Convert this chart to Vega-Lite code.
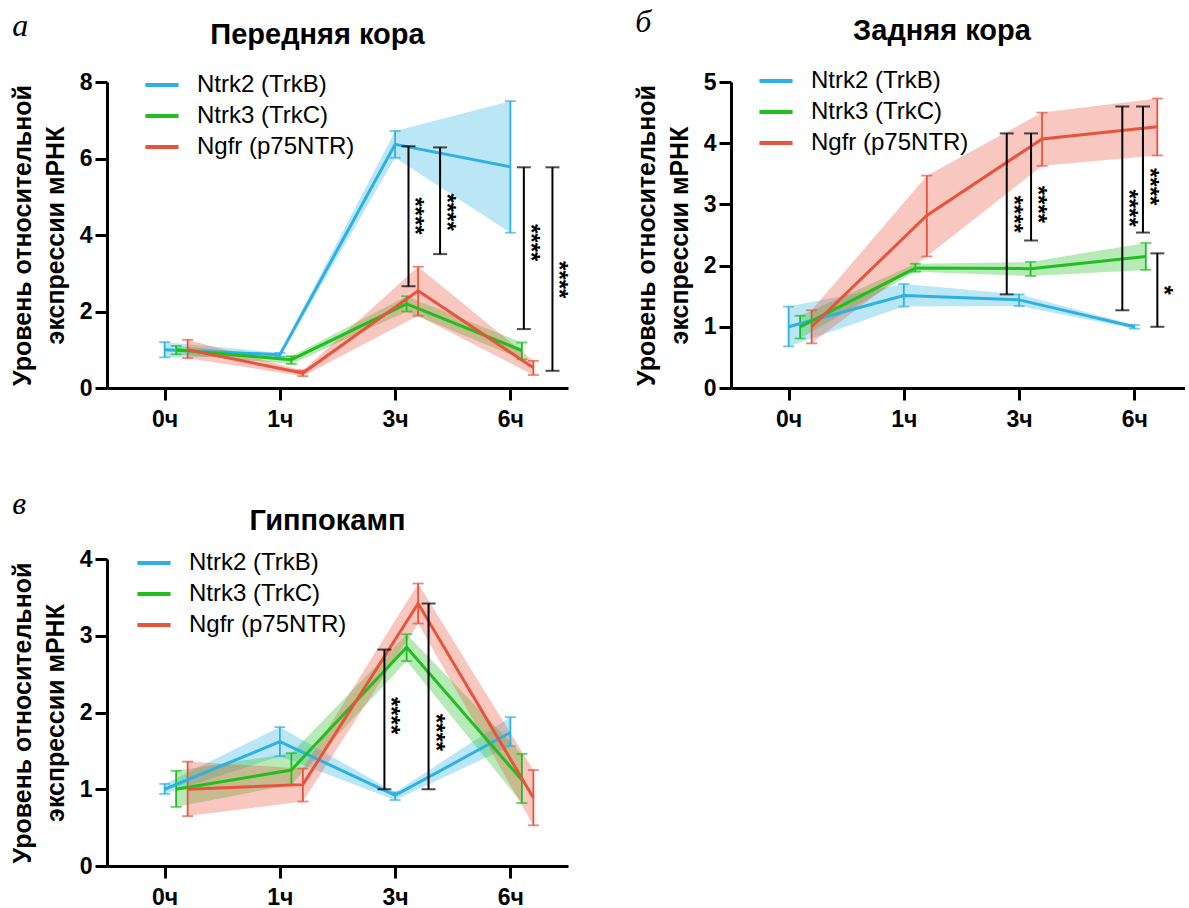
{
  "$schema": "https://vega.github.io/schema/vega-lite/v6.json",
  "padding": {"left": 10, "top": 6, "right": 0, "bottom": 0},
  "datasets": {
    "series": [
      {"panel": "a", "gene": "Ntrk2 (TrkB)", "t": 0, "mean": 1.0, "lo": 0.8, "hi": 1.2},
      {"panel": "a", "gene": "Ntrk2 (TrkB)", "t": 1, "mean": 0.87, "lo": 0.82, "hi": 0.92},
      {"panel": "a", "gene": "Ntrk2 (TrkB)", "t": 2, "mean": 6.37, "lo": 6.02, "hi": 6.72},
      {"panel": "a", "gene": "Ntrk2 (TrkB)", "t": 3, "mean": 5.78, "lo": 4.06, "hi": 7.5},
      {"panel": "a", "gene": "Ntrk3 (TrkC)", "t": 0, "mean": 1.0, "lo": 0.88, "hi": 1.1},
      {"panel": "a", "gene": "Ntrk3 (TrkC)", "t": 1, "mean": 0.74, "lo": 0.63, "hi": 0.83},
      {"panel": "a", "gene": "Ntrk3 (TrkC)", "t": 2, "mean": 2.2, "lo": 2.0, "hi": 2.4},
      {"panel": "a", "gene": "Ntrk3 (TrkC)", "t": 3, "mean": 0.98, "lo": 0.75, "hi": 1.19},
      {"panel": "a", "gene": "Ngfr (p75NTR)", "t": 0, "mean": 1.0, "lo": 0.78, "hi": 1.26},
      {"panel": "a", "gene": "Ngfr (p75NTR)", "t": 1, "mean": 0.39, "lo": 0.31, "hi": 0.46},
      {"panel": "a", "gene": "Ngfr (p75NTR)", "t": 2, "mean": 2.54, "lo": 1.89, "hi": 3.17},
      {"panel": "a", "gene": "Ngfr (p75NTR)", "t": 3, "mean": 0.53, "lo": 0.34, "hi": 0.71},
      {"panel": "b", "gene": "Ntrk2 (TrkB)", "t": 0, "mean": 1.0, "lo": 0.68, "hi": 1.33},
      {"panel": "b", "gene": "Ntrk2 (TrkB)", "t": 1, "mean": 1.51, "lo": 1.33, "hi": 1.7},
      {"panel": "b", "gene": "Ntrk2 (TrkB)", "t": 2, "mean": 1.44, "lo": 1.34, "hi": 1.53},
      {"panel": "b", "gene": "Ntrk2 (TrkB)", "t": 3, "mean": 1.0, "lo": 0.97, "hi": 1.03},
      {"panel": "b", "gene": "Ntrk3 (TrkC)", "t": 0, "mean": 1.0, "lo": 0.81, "hi": 1.18},
      {"panel": "b", "gene": "Ntrk3 (TrkC)", "t": 1, "mean": 1.96, "lo": 1.9, "hi": 2.03},
      {"panel": "b", "gene": "Ntrk3 (TrkC)", "t": 2, "mean": 1.95, "lo": 1.83, "hi": 2.06},
      {"panel": "b", "gene": "Ntrk3 (TrkC)", "t": 3, "mean": 2.15, "lo": 1.93, "hi": 2.37},
      {"panel": "b", "gene": "Ngfr (p75NTR)", "t": 0, "mean": 1.0, "lo": 0.73, "hi": 1.27},
      {"panel": "b", "gene": "Ngfr (p75NTR)", "t": 1, "mean": 2.82, "lo": 2.15, "hi": 3.47},
      {"panel": "b", "gene": "Ngfr (p75NTR)", "t": 2, "mean": 4.07, "lo": 3.63, "hi": 4.5},
      {"panel": "b", "gene": "Ngfr (p75NTR)", "t": 3, "mean": 4.27, "lo": 3.8, "hi": 4.73},
      {"panel": "c", "gene": "Ntrk2 (TrkB)", "t": 0, "mean": 1.0, "lo": 0.94, "hi": 1.07},
      {"panel": "c", "gene": "Ntrk2 (TrkB)", "t": 1, "mean": 1.62, "lo": 1.43, "hi": 1.81},
      {"panel": "c", "gene": "Ntrk2 (TrkB)", "t": 2, "mean": 0.92, "lo": 0.86, "hi": 0.96},
      {"panel": "c", "gene": "Ntrk2 (TrkB)", "t": 3, "mean": 1.74, "lo": 1.56, "hi": 1.94},
      {"panel": "c", "gene": "Ntrk3 (TrkC)", "t": 0, "mean": 1.0, "lo": 0.77, "hi": 1.24},
      {"panel": "c", "gene": "Ntrk3 (TrkC)", "t": 1, "mean": 1.25, "lo": 1.06, "hi": 1.47},
      {"panel": "c", "gene": "Ntrk3 (TrkC)", "t": 2, "mean": 2.85, "lo": 2.67, "hi": 3.02},
      {"panel": "c", "gene": "Ntrk3 (TrkC)", "t": 3, "mean": 1.12, "lo": 0.82, "hi": 1.46},
      {"panel": "c", "gene": "Ngfr (p75NTR)", "t": 0, "mean": 1.0, "lo": 0.65, "hi": 1.36},
      {"panel": "c", "gene": "Ngfr (p75NTR)", "t": 1, "mean": 1.06, "lo": 0.84, "hi": 1.27},
      {"panel": "c", "gene": "Ngfr (p75NTR)", "t": 2, "mean": 3.42, "lo": 3.16, "hi": 3.68},
      {"panel": "c", "gene": "Ngfr (p75NTR)", "t": 3, "mean": 0.89, "lo": 0.53, "hi": 1.25}
    ],
    "brackets": [
      {"panel": "a", "bx": 2.116, "top": 6.32, "bot": 2.66, "sy": 4.5, "stars": "****"},
      {"panel": "a", "bx": 2.39, "top": 6.29, "bot": 3.5, "sy": 4.6, "stars": "****"},
      {"panel": "a", "bx": 3.117, "top": 5.77, "bot": 1.54, "sy": 3.8, "stars": "****"},
      {"panel": "a", "bx": 3.365, "top": 5.77, "bot": 0.45, "sy": 2.83, "stars": "****"},
      {"panel": "b", "bx": 1.893, "top": 4.16, "bot": 1.53, "sy": 2.84, "stars": "****"},
      {"panel": "b", "bx": 2.104, "top": 4.16, "bot": 2.41, "sy": 3.0, "stars": "****"},
      {"panel": "b", "bx": 2.896, "top": 4.6, "bot": 1.27, "sy": 2.94, "stars": "****"},
      {"panel": "b", "bx": 3.075, "top": 4.6, "bot": 2.54, "sy": 3.29, "stars": "****"},
      {"panel": "b", "bx": 3.2, "top": 2.2, "bot": 1.0, "sy": 1.6, "stars": "*"},
      {"panel": "c", "bx": 1.907, "top": 2.82, "bot": 1.0, "sy": 1.96, "stars": "****"},
      {"panel": "c", "bx": 2.29, "top": 3.42, "bot": 1.0, "sy": 1.74, "stars": "****"}
    ]
  },
  "vconcat": [
    {
      "hconcat": [
        {
          "title": {"text": "а", "anchor": "start", "frame": "bounds", "font": "Liberation Serif", "fontStyle": "italic", "fontWeight": "normal", "fontSize": 32, "offset": -22, "dx": 2},
          "vconcat": [
            {
              "title": {"text": "Передняя кора", "fontSize": 29, "fontWeight": "bold", "anchor": "middle", "dx": -20, "offset": 16},
              "width": 461,
              "height": 306,
              "layer": [
                {"data": {"name": "series"}, "transform": [{"filter": "datum.panel == 'a' && datum.gene == 'Ntrk2 (TrkB)'"}], "mark": {"type": "area", "color": "#2CB1E3", "opacity": 0.32, "xOffset": 0},
                 "encoding": {
                   "x": {"field": "t", "type": "quantitative", "scale": {"domain": [-0.5, 3.5], "nice": false, "zero": false}, "axis": {"values": [0, 1, 2, 3], "labelExpr": "['0ч','1ч','3ч','6ч'][datum.value]", "title": null, "labelPadding": 8}},
                   "y": {"field": "lo", "type": "quantitative", "scale": {"domain": [0, 8], "nice": false}, "axis": {"values": [0, 2, 4, 6, 8], "format": "d", "title": ["Уровень относительной", "экспрессии мРНК"], "titlePadding": 11}},
                   "y2": {"field": "hi"}}},
                {"data": {"name": "series"}, "transform": [{"filter": "datum.panel == 'a' && datum.gene == 'Ntrk3 (TrkC)'"}], "mark": {"type": "area", "color": "#1FBF1F", "opacity": 0.32, "xOffset": 11.5},
                 "encoding": {"x": {"field": "t", "type": "quantitative"}, "y": {"field": "lo", "type": "quantitative"}, "y2": {"field": "hi"}}},
                {"data": {"name": "series"}, "transform": [{"filter": "datum.panel == 'a' && datum.gene == 'Ngfr (p75NTR)'"}], "mark": {"type": "area", "color": "#E8533B", "opacity": 0.32, "xOffset": 23},
                 "encoding": {"x": {"field": "t", "type": "quantitative"}, "y": {"field": "lo", "type": "quantitative"}, "y2": {"field": "hi"}}},
                {"data": {"name": "series"}, "transform": [{"filter": "datum.panel == 'a' && datum.gene == 'Ntrk2 (TrkB)'"}], "mark": {"type": "rule", "color": "#2CB1E3", "strokeWidth": 1.8, "xOffset": 0},
                 "encoding": {"x": {"field": "t", "type": "quantitative"}, "y": {"field": "lo", "type": "quantitative"}, "y2": {"field": "hi"}}},
                {"data": {"name": "series"}, "transform": [{"filter": "datum.panel == 'a' && datum.gene == 'Ntrk3 (TrkC)'"}], "mark": {"type": "rule", "color": "#1FBF1F", "strokeWidth": 1.8, "xOffset": 11.5},
                 "encoding": {"x": {"field": "t", "type": "quantitative"}, "y": {"field": "lo", "type": "quantitative"}, "y2": {"field": "hi"}}},
                {"data": {"name": "series"}, "transform": [{"filter": "datum.panel == 'a' && datum.gene == 'Ngfr (p75NTR)'"}], "mark": {"type": "rule", "color": "#E8533B", "strokeWidth": 1.8, "xOffset": 23},
                 "encoding": {"x": {"field": "t", "type": "quantitative"}, "y": {"field": "lo", "type": "quantitative"}, "y2": {"field": "hi"}}},
                {"data": {"name": "series"}, "transform": [{"filter": "datum.panel == 'a' && datum.gene == 'Ntrk2 (TrkB)'"}], "mark": {"type": "tick", "orient": "horizontal", "size": 11, "thickness": 1.8, "color": "#2CB1E3", "xOffset": 0},
                 "encoding": {"x": {"field": "t", "type": "quantitative"}, "y": {"field": "hi", "type": "quantitative"}}},
                {"data": {"name": "series"}, "transform": [{"filter": "datum.panel == 'a' && datum.gene == 'Ntrk2 (TrkB)'"}], "mark": {"type": "tick", "orient": "horizontal", "size": 11, "thickness": 1.8, "color": "#2CB1E3", "xOffset": 0},
                 "encoding": {"x": {"field": "t", "type": "quantitative"}, "y": {"field": "lo", "type": "quantitative"}}},
                {"data": {"name": "series"}, "transform": [{"filter": "datum.panel == 'a' && datum.gene == 'Ntrk3 (TrkC)'"}], "mark": {"type": "tick", "orient": "horizontal", "size": 11, "thickness": 1.8, "color": "#1FBF1F", "xOffset": 11.5},
                 "encoding": {"x": {"field": "t", "type": "quantitative"}, "y": {"field": "hi", "type": "quantitative"}}},
                {"data": {"name": "series"}, "transform": [{"filter": "datum.panel == 'a' && datum.gene == 'Ntrk3 (TrkC)'"}], "mark": {"type": "tick", "orient": "horizontal", "size": 11, "thickness": 1.8, "color": "#1FBF1F", "xOffset": 11.5},
                 "encoding": {"x": {"field": "t", "type": "quantitative"}, "y": {"field": "lo", "type": "quantitative"}}},
                {"data": {"name": "series"}, "transform": [{"filter": "datum.panel == 'a' && datum.gene == 'Ngfr (p75NTR)'"}], "mark": {"type": "tick", "orient": "horizontal", "size": 11, "thickness": 1.8, "color": "#E8533B", "xOffset": 23},
                 "encoding": {"x": {"field": "t", "type": "quantitative"}, "y": {"field": "hi", "type": "quantitative"}}},
                {"data": {"name": "series"}, "transform": [{"filter": "datum.panel == 'a' && datum.gene == 'Ngfr (p75NTR)'"}], "mark": {"type": "tick", "orient": "horizontal", "size": 11, "thickness": 1.8, "color": "#E8533B", "xOffset": 23},
                 "encoding": {"x": {"field": "t", "type": "quantitative"}, "y": {"field": "lo", "type": "quantitative"}}},
                {"data": {"name": "series"}, "transform": [{"filter": "datum.panel == 'a' && datum.gene == 'Ntrk2 (TrkB)'"}], "mark": {"type": "line", "strokeWidth": 3, "xOffset": 0},
                 "encoding": {"x": {"field": "t", "type": "quantitative"}, "y": {"field": "mean", "type": "quantitative"},
                   "color": {"field": "gene", "type": "nominal", "scale": {"domain": ["Ntrk2 (TrkB)", "Ntrk3 (TrkC)", "Ngfr (p75NTR)"], "range": ["#2CB1E3", "#1FBF1F", "#E8533B"]}, "legend": {"orient": "none", "legendX": 36, "legendY": -16, "title": null}}}},
                {"data": {"name": "series"}, "transform": [{"filter": "datum.panel == 'a' && datum.gene == 'Ntrk3 (TrkC)'"}], "mark": {"type": "line", "strokeWidth": 3, "xOffset": 11.5},
                 "encoding": {"x": {"field": "t", "type": "quantitative"}, "y": {"field": "mean", "type": "quantitative"}, "color": {"field": "gene", "type": "nominal"}}},
                {"data": {"name": "series"}, "transform": [{"filter": "datum.panel == 'a' && datum.gene == 'Ngfr (p75NTR)'"}], "mark": {"type": "line", "strokeWidth": 3, "xOffset": 23},
                 "encoding": {"x": {"field": "t", "type": "quantitative"}, "y": {"field": "mean", "type": "quantitative"}, "color": {"field": "gene", "type": "nominal"}}},
                {"data": {"name": "brackets"}, "transform": [{"filter": "datum.panel == 'a'"}], "mark": {"type": "rule", "strokeWidth": 2, "color": "black"},
                 "encoding": {"x": {"field": "bx", "type": "quantitative"}, "y": {"field": "bot", "type": "quantitative"}, "y2": {"field": "top"}}},
                {"data": {"name": "brackets"}, "transform": [{"filter": "datum.panel == 'a'"}], "mark": {"type": "tick", "orient": "horizontal", "size": 14, "thickness": 2, "color": "black"},
                 "encoding": {"x": {"field": "bx", "type": "quantitative"}, "y": {"field": "top", "type": "quantitative"}}},
                {"data": {"name": "brackets"}, "transform": [{"filter": "datum.panel == 'a'"}], "mark": {"type": "tick", "orient": "horizontal", "size": 14, "thickness": 2, "color": "black"},
                 "encoding": {"x": {"field": "bx", "type": "quantitative"}, "y": {"field": "bot", "type": "quantitative"}}},
                {"data": {"name": "brackets"}, "transform": [{"filter": "datum.panel == 'a'"}], "mark": {"type": "text", "angle": 90, "dy": -6, "fontSize": 24, "fontWeight": "bold", "color": "black", "align": "center", "baseline": "middle"},
                 "encoding": {"x": {"field": "bx", "type": "quantitative"}, "y": {"field": "sy", "type": "quantitative"}, "text": {"field": "stars"}}}
              ]
            }
          ],
          "resolve": {"scale": {"color": "independent"}, "legend": {"color": "independent"}}
        },
        {
          "title": {"text": "б", "anchor": "start", "frame": "bounds", "font": "Liberation Serif", "fontStyle": "italic", "fontWeight": "normal", "fontSize": 32, "offset": -22, "dx": 1},
          "vconcat": [
            {
              "title": {"text": "Задняя кора", "fontSize": 29, "fontWeight": "bold", "anchor": "middle", "dx": -16, "offset": 16},
              "width": 454,
              "height": 306,
              "layer": [
                {"data": {"name": "series"}, "transform": [{"filter": "datum.panel == 'b' && datum.gene == 'Ntrk2 (TrkB)'"}], "mark": {"type": "area", "color": "#2CB1E3", "opacity": 0.32, "xOffset": 0},
                 "encoding": {
                   "x": {"field": "t", "type": "quantitative", "scale": {"domain": [-0.5, 3.44], "nice": false, "zero": false}, "axis": {"values": [0, 1, 2, 3], "labelExpr": "['0ч','1ч','3ч','6ч'][datum.value]", "title": null, "labelPadding": 8}},
                   "y": {"field": "lo", "type": "quantitative", "scale": {"domain": [0, 5], "nice": false}, "axis": {"values": [0, 1, 2, 3, 4, 5], "format": "d", "title": ["Уровень относительной", "экспрессии мРНК"], "titlePadding": 11}},
                   "y2": {"field": "hi"}}},
                {"data": {"name": "series"}, "transform": [{"filter": "datum.panel == 'b' && datum.gene == 'Ntrk3 (TrkC)'"}], "mark": {"type": "area", "color": "#1FBF1F", "opacity": 0.32, "xOffset": 11.5},
                 "encoding": {"x": {"field": "t", "type": "quantitative"}, "y": {"field": "lo", "type": "quantitative"}, "y2": {"field": "hi"}}},
                {"data": {"name": "series"}, "transform": [{"filter": "datum.panel == 'b' && datum.gene == 'Ngfr (p75NTR)'"}], "mark": {"type": "area", "color": "#E8533B", "opacity": 0.32, "xOffset": 23},
                 "encoding": {"x": {"field": "t", "type": "quantitative"}, "y": {"field": "lo", "type": "quantitative"}, "y2": {"field": "hi"}}},
                {"data": {"name": "series"}, "transform": [{"filter": "datum.panel == 'b' && datum.gene == 'Ntrk2 (TrkB)'"}], "mark": {"type": "rule", "color": "#2CB1E3", "strokeWidth": 1.8, "xOffset": 0},
                 "encoding": {"x": {"field": "t", "type": "quantitative"}, "y": {"field": "lo", "type": "quantitative"}, "y2": {"field": "hi"}}},
                {"data": {"name": "series"}, "transform": [{"filter": "datum.panel == 'b' && datum.gene == 'Ntrk3 (TrkC)'"}], "mark": {"type": "rule", "color": "#1FBF1F", "strokeWidth": 1.8, "xOffset": 11.5},
                 "encoding": {"x": {"field": "t", "type": "quantitative"}, "y": {"field": "lo", "type": "quantitative"}, "y2": {"field": "hi"}}},
                {"data": {"name": "series"}, "transform": [{"filter": "datum.panel == 'b' && datum.gene == 'Ngfr (p75NTR)'"}], "mark": {"type": "rule", "color": "#E8533B", "strokeWidth": 1.8, "xOffset": 23},
                 "encoding": {"x": {"field": "t", "type": "quantitative"}, "y": {"field": "lo", "type": "quantitative"}, "y2": {"field": "hi"}}},
                {"data": {"name": "series"}, "transform": [{"filter": "datum.panel == 'b' && datum.gene == 'Ntrk2 (TrkB)'"}], "mark": {"type": "tick", "orient": "horizontal", "size": 11, "thickness": 1.8, "color": "#2CB1E3", "xOffset": 0},
                 "encoding": {"x": {"field": "t", "type": "quantitative"}, "y": {"field": "hi", "type": "quantitative"}}},
                {"data": {"name": "series"}, "transform": [{"filter": "datum.panel == 'b' && datum.gene == 'Ntrk2 (TrkB)'"}], "mark": {"type": "tick", "orient": "horizontal", "size": 11, "thickness": 1.8, "color": "#2CB1E3", "xOffset": 0},
                 "encoding": {"x": {"field": "t", "type": "quantitative"}, "y": {"field": "lo", "type": "quantitative"}}},
                {"data": {"name": "series"}, "transform": [{"filter": "datum.panel == 'b' && datum.gene == 'Ntrk3 (TrkC)'"}], "mark": {"type": "tick", "orient": "horizontal", "size": 11, "thickness": 1.8, "color": "#1FBF1F", "xOffset": 11.5},
                 "encoding": {"x": {"field": "t", "type": "quantitative"}, "y": {"field": "hi", "type": "quantitative"}}},
                {"data": {"name": "series"}, "transform": [{"filter": "datum.panel == 'b' && datum.gene == 'Ntrk3 (TrkC)'"}], "mark": {"type": "tick", "orient": "horizontal", "size": 11, "thickness": 1.8, "color": "#1FBF1F", "xOffset": 11.5},
                 "encoding": {"x": {"field": "t", "type": "quantitative"}, "y": {"field": "lo", "type": "quantitative"}}},
                {"data": {"name": "series"}, "transform": [{"filter": "datum.panel == 'b' && datum.gene == 'Ngfr (p75NTR)'"}], "mark": {"type": "tick", "orient": "horizontal", "size": 11, "thickness": 1.8, "color": "#E8533B", "xOffset": 23},
                 "encoding": {"x": {"field": "t", "type": "quantitative"}, "y": {"field": "hi", "type": "quantitative"}}},
                {"data": {"name": "series"}, "transform": [{"filter": "datum.panel == 'b' && datum.gene == 'Ngfr (p75NTR)'"}], "mark": {"type": "tick", "orient": "horizontal", "size": 11, "thickness": 1.8, "color": "#E8533B", "xOffset": 23},
                 "encoding": {"x": {"field": "t", "type": "quantitative"}, "y": {"field": "lo", "type": "quantitative"}}},
                {"data": {"name": "series"}, "transform": [{"filter": "datum.panel == 'b' && datum.gene == 'Ntrk2 (TrkB)'"}], "mark": {"type": "line", "strokeWidth": 3, "xOffset": 0},
                 "encoding": {"x": {"field": "t", "type": "quantitative"}, "y": {"field": "mean", "type": "quantitative"},
                   "color": {"field": "gene", "type": "nominal", "scale": {"domain": ["Ntrk2 (TrkB)", "Ntrk3 (TrkC)", "Ngfr (p75NTR)"], "range": ["#2CB1E3", "#1FBF1F", "#E8533B"]}, "legend": {"orient": "none", "legendX": 26, "legendY": -20, "title": null}}}},
                {"data": {"name": "series"}, "transform": [{"filter": "datum.panel == 'b' && datum.gene == 'Ntrk3 (TrkC)'"}], "mark": {"type": "line", "strokeWidth": 3, "xOffset": 11.5},
                 "encoding": {"x": {"field": "t", "type": "quantitative"}, "y": {"field": "mean", "type": "quantitative"}, "color": {"field": "gene", "type": "nominal"}}},
                {"data": {"name": "series"}, "transform": [{"filter": "datum.panel == 'b' && datum.gene == 'Ngfr (p75NTR)'"}], "mark": {"type": "line", "strokeWidth": 3, "xOffset": 23},
                 "encoding": {"x": {"field": "t", "type": "quantitative"}, "y": {"field": "mean", "type": "quantitative"}, "color": {"field": "gene", "type": "nominal"}}},
                {"data": {"name": "brackets"}, "transform": [{"filter": "datum.panel == 'b'"}], "mark": {"type": "rule", "strokeWidth": 2, "color": "black"},
                 "encoding": {"x": {"field": "bx", "type": "quantitative"}, "y": {"field": "bot", "type": "quantitative"}, "y2": {"field": "top"}}},
                {"data": {"name": "brackets"}, "transform": [{"filter": "datum.panel == 'b'"}], "mark": {"type": "tick", "orient": "horizontal", "size": 14, "thickness": 2, "color": "black"},
                 "encoding": {"x": {"field": "bx", "type": "quantitative"}, "y": {"field": "top", "type": "quantitative"}}},
                {"data": {"name": "brackets"}, "transform": [{"filter": "datum.panel == 'b'"}], "mark": {"type": "tick", "orient": "horizontal", "size": 14, "thickness": 2, "color": "black"},
                 "encoding": {"x": {"field": "bx", "type": "quantitative"}, "y": {"field": "bot", "type": "quantitative"}}},
                {"data": {"name": "brackets"}, "transform": [{"filter": "datum.panel == 'b'"}], "mark": {"type": "text", "angle": 90, "dy": -6, "fontSize": 24, "fontWeight": "bold", "color": "black", "align": "center", "baseline": "middle"},
                 "encoding": {"x": {"field": "bx", "type": "quantitative"}, "y": {"field": "sy", "type": "quantitative"}, "text": {"field": "stars"}}}
              ]
            }
          ],
          "resolve": {"scale": {"color": "independent"}, "legend": {"color": "independent"}}
        }
      ],
      "spacing": 63,
      "resolve": {"scale": {"color": "independent"}, "legend": {"color": "independent"}}
    },
    {
      "title": {"text": "в", "anchor": "start", "frame": "bounds", "font": "Liberation Serif", "fontStyle": "italic", "fontWeight": "normal", "fontSize": 32, "offset": -14, "dx": 2},
      "vconcat": [
        {
          "title": {"text": "Гиппокамп", "fontSize": 29, "fontWeight": "bold", "anchor": "middle", "dx": -10, "offset": 8},
          "width": 461,
          "height": 307,
          "layer": [
            {"data": {"name": "series"}, "transform": [{"filter": "datum.panel == 'c' && datum.gene == 'Ntrk2 (TrkB)'"}], "mark": {"type": "area", "color": "#2CB1E3", "opacity": 0.32, "xOffset": 0},
             "encoding": {
               "x": {"field": "t", "type": "quantitative", "scale": {"domain": [-0.5, 3.5], "nice": false, "zero": false}, "axis": {"values": [0, 1, 2, 3], "labelExpr": "['0ч','1ч','3ч','6ч'][datum.value]", "title": null, "labelPadding": 8}},
               "y": {"field": "lo", "type": "quantitative", "scale": {"domain": [0, 4], "nice": false}, "axis": {"values": [0, 1, 2, 3, 4], "format": "d", "title": ["Уровень относительной", "экспрессии мРНК"], "titlePadding": 11}},
               "y2": {"field": "hi"}}},
            {"data": {"name": "series"}, "transform": [{"filter": "datum.panel == 'c' && datum.gene == 'Ntrk3 (TrkC)'"}], "mark": {"type": "area", "color": "#1FBF1F", "opacity": 0.32, "xOffset": 11.5},
             "encoding": {"x": {"field": "t", "type": "quantitative"}, "y": {"field": "lo", "type": "quantitative"}, "y2": {"field": "hi"}}},
            {"data": {"name": "series"}, "transform": [{"filter": "datum.panel == 'c' && datum.gene == 'Ngfr (p75NTR)'"}], "mark": {"type": "area", "color": "#E8533B", "opacity": 0.32, "xOffset": 23},
             "encoding": {"x": {"field": "t", "type": "quantitative"}, "y": {"field": "lo", "type": "quantitative"}, "y2": {"field": "hi"}}},
            {"data": {"name": "series"}, "transform": [{"filter": "datum.panel == 'c' && datum.gene == 'Ntrk2 (TrkB)'"}], "mark": {"type": "rule", "color": "#2CB1E3", "strokeWidth": 1.8, "xOffset": 0},
             "encoding": {"x": {"field": "t", "type": "quantitative"}, "y": {"field": "lo", "type": "quantitative"}, "y2": {"field": "hi"}}},
            {"data": {"name": "series"}, "transform": [{"filter": "datum.panel == 'c' && datum.gene == 'Ntrk3 (TrkC)'"}], "mark": {"type": "rule", "color": "#1FBF1F", "strokeWidth": 1.8, "xOffset": 11.5},
             "encoding": {"x": {"field": "t", "type": "quantitative"}, "y": {"field": "lo", "type": "quantitative"}, "y2": {"field": "hi"}}},
            {"data": {"name": "series"}, "transform": [{"filter": "datum.panel == 'c' && datum.gene == 'Ngfr (p75NTR)'"}], "mark": {"type": "rule", "color": "#E8533B", "strokeWidth": 1.8, "xOffset": 23},
             "encoding": {"x": {"field": "t", "type": "quantitative"}, "y": {"field": "lo", "type": "quantitative"}, "y2": {"field": "hi"}}},
            {"data": {"name": "series"}, "transform": [{"filter": "datum.panel == 'c' && datum.gene == 'Ntrk2 (TrkB)'"}], "mark": {"type": "tick", "orient": "horizontal", "size": 11, "thickness": 1.8, "color": "#2CB1E3", "xOffset": 0},
             "encoding": {"x": {"field": "t", "type": "quantitative"}, "y": {"field": "hi", "type": "quantitative"}}},
            {"data": {"name": "series"}, "transform": [{"filter": "datum.panel == 'c' && datum.gene == 'Ntrk2 (TrkB)'"}], "mark": {"type": "tick", "orient": "horizontal", "size": 11, "thickness": 1.8, "color": "#2CB1E3", "xOffset": 0},
             "encoding": {"x": {"field": "t", "type": "quantitative"}, "y": {"field": "lo", "type": "quantitative"}}},
            {"data": {"name": "series"}, "transform": [{"filter": "datum.panel == 'c' && datum.gene == 'Ntrk3 (TrkC)'"}], "mark": {"type": "tick", "orient": "horizontal", "size": 11, "thickness": 1.8, "color": "#1FBF1F", "xOffset": 11.5},
             "encoding": {"x": {"field": "t", "type": "quantitative"}, "y": {"field": "hi", "type": "quantitative"}}},
            {"data": {"name": "series"}, "transform": [{"filter": "datum.panel == 'c' && datum.gene == 'Ntrk3 (TrkC)'"}], "mark": {"type": "tick", "orient": "horizontal", "size": 11, "thickness": 1.8, "color": "#1FBF1F", "xOffset": 11.5},
             "encoding": {"x": {"field": "t", "type": "quantitative"}, "y": {"field": "lo", "type": "quantitative"}}},
            {"data": {"name": "series"}, "transform": [{"filter": "datum.panel == 'c' && datum.gene == 'Ngfr (p75NTR)'"}], "mark": {"type": "tick", "orient": "horizontal", "size": 11, "thickness": 1.8, "color": "#E8533B", "xOffset": 23},
             "encoding": {"x": {"field": "t", "type": "quantitative"}, "y": {"field": "hi", "type": "quantitative"}}},
            {"data": {"name": "series"}, "transform": [{"filter": "datum.panel == 'c' && datum.gene == 'Ngfr (p75NTR)'"}], "mark": {"type": "tick", "orient": "horizontal", "size": 11, "thickness": 1.8, "color": "#E8533B", "xOffset": 23},
             "encoding": {"x": {"field": "t", "type": "quantitative"}, "y": {"field": "lo", "type": "quantitative"}}},
            {"data": {"name": "series"}, "transform": [{"filter": "datum.panel == 'c' && datum.gene == 'Ntrk2 (TrkB)'"}], "mark": {"type": "line", "strokeWidth": 3, "xOffset": 0},
             "encoding": {"x": {"field": "t", "type": "quantitative"}, "y": {"field": "mean", "type": "quantitative"},
               "color": {"field": "gene", "type": "nominal", "scale": {"domain": ["Ntrk2 (TrkB)", "Ntrk3 (TrkC)", "Ngfr (p75NTR)"], "range": ["#2CB1E3", "#1FBF1F", "#E8533B"]}, "legend": {"orient": "none", "legendX": 28, "legendY": -15, "title": null}}}},
            {"data": {"name": "series"}, "transform": [{"filter": "datum.panel == 'c' && datum.gene == 'Ntrk3 (TrkC)'"}], "mark": {"type": "line", "strokeWidth": 3, "xOffset": 11.5},
             "encoding": {"x": {"field": "t", "type": "quantitative"}, "y": {"field": "mean", "type": "quantitative"}, "color": {"field": "gene", "type": "nominal"}}},
            {"data": {"name": "series"}, "transform": [{"filter": "datum.panel == 'c' && datum.gene == 'Ngfr (p75NTR)'"}], "mark": {"type": "line", "strokeWidth": 3, "xOffset": 23},
             "encoding": {"x": {"field": "t", "type": "quantitative"}, "y": {"field": "mean", "type": "quantitative"}, "color": {"field": "gene", "type": "nominal"}}},
            {"data": {"name": "brackets"}, "transform": [{"filter": "datum.panel == 'c'"}], "mark": {"type": "rule", "strokeWidth": 2, "color": "black"},
             "encoding": {"x": {"field": "bx", "type": "quantitative"}, "y": {"field": "bot", "type": "quantitative"}, "y2": {"field": "top"}}},
            {"data": {"name": "brackets"}, "transform": [{"filter": "datum.panel == 'c'"}], "mark": {"type": "tick", "orient": "horizontal", "size": 14, "thickness": 2, "color": "black"},
             "encoding": {"x": {"field": "bx", "type": "quantitative"}, "y": {"field": "top", "type": "quantitative"}}},
            {"data": {"name": "brackets"}, "transform": [{"filter": "datum.panel == 'c'"}], "mark": {"type": "tick", "orient": "horizontal", "size": 14, "thickness": 2, "color": "black"},
             "encoding": {"x": {"field": "bx", "type": "quantitative"}, "y": {"field": "bot", "type": "quantitative"}}},
            {"data": {"name": "brackets"}, "transform": [{"filter": "datum.panel == 'c'"}], "mark": {"type": "text", "angle": 90, "dy": -6, "fontSize": 24, "fontWeight": "bold", "color": "black", "align": "center", "baseline": "middle"},
             "encoding": {"x": {"field": "bx", "type": "quantitative"}, "y": {"field": "sy", "type": "quantitative"}, "text": {"field": "stars"}}}
          ]
        }
      ],
      "resolve": {"scale": {"color": "independent"}, "legend": {"color": "independent"}}
    }
  ],
  "spacing": 57,
  "resolve": {"scale": {"color": "independent"}, "legend": {"color": "independent"}},
  "config": {
    "view": {"stroke": null},
    "font": "Liberation Sans",
    "axis": {
      "grid": false,
      "domainColor": "black",
      "domainWidth": 3,
      "tickColor": "black",
      "tickWidth": 3,
      "tickSize": 12,
      "labelFont": "Liberation Sans",
      "labelFontWeight": "bold",
      "labelFontSize": 23,
      "labelColor": "black",
      "titleFont": "Liberation Sans",
      "titleFontWeight": "bold",
      "titleFontSize": 25,
      "titleColor": "black",
      "titleLineHeight": 33
    },
    "axisY": {"labelPadding": 3},
    "legend": {
      "labelFont": "Liberation Sans",
      "labelFontSize": 24,
      "labelColor": "black",
      "symbolType": "stroke",
      "symbolStrokeWidth": 4,
      "symbolSize": 1100,
      "rowPadding": -2,
      "labelOffset": 16,
      "padding": 0
    },
    "title": {"font": "Liberation Sans", "color": "black"}
  }
}
